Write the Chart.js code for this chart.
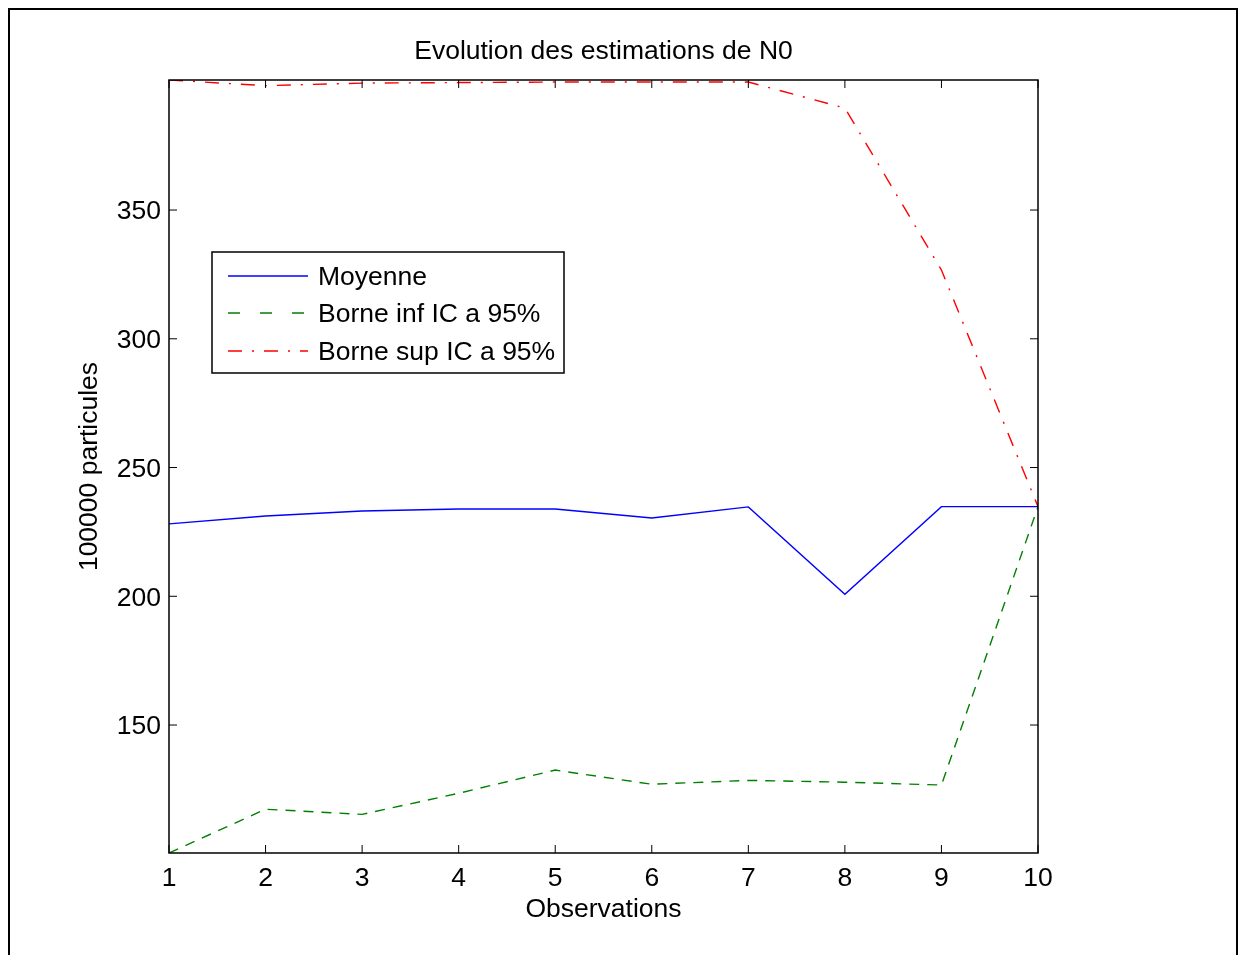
<!DOCTYPE html>
<html>
<head>
<meta charset="utf-8">
<script src="https://cdn.jsdelivr.net/npm/chart.js@4"></script>
<style>
  html, body { margin: 0; padding: 0; background: #fff; }
  canvas { display: block; }
</style>
</head>
<body>
<canvas id="chart" width="1239" height="955"></canvas>
<script>
// Data
const observations = [1, 2, 3, 4, 5, 6, 7, 8, 9, 10];
const moyenne = [228.1, 231.2, 233.1, 233.9, 233.9, 230.4, 234.7, 200.8, 234.8, 234.8];
const borneInf = [100.3, 117.3, 115.3, 123.5, 132.5, 127.0, 128.5, 127.8, 126.7, 234.8];
const borneSup = [400.5, 398.3, 399.3, 399.5, 399.7, 399.7, 399.7, 389.6, 326.7, 234.8];
const yTicks = [150, 200, 250, 300, 350];

const FONT = '"Liberation Sans", Arial, Helvetica, sans-serif';
const SIZE = 26.5;

function points(values) {
  return observations.map((x, i) => ({ x: x, y: values[i] }));
}

// Frame, mirrored inward ticks, title and legend (MATLAB look)
const matlabDecor = {
  id: 'matlabDecor',
  afterDraw(chart) {
    const ctx = chart.ctx;
    const a = chart.chartArea;
    const xs = chart.scales.x;
    const ys = chart.scales.y;
    ctx.save();

    // outer figure frame
    ctx.strokeStyle = '#000';
    ctx.lineWidth = 2;
    ctx.beginPath();
    ctx.moveTo(9, 960);
    ctx.lineTo(9, 9);
    ctx.lineTo(1237, 9);
    ctx.lineTo(1237, 960);
    ctx.stroke();

    // axes box
    ctx.lineWidth = 1.5;
    ctx.strokeRect(a.left, a.top, a.right - a.left, a.bottom - a.top);

    // inward ticks on all four sides
    ctx.lineWidth = 1;
    const tl = 8;
    ctx.beginPath();
    xs.ticks.forEach(t => {
      const px = xs.getPixelForValue(t.value);
      ctx.moveTo(px, a.bottom); ctx.lineTo(px, a.bottom - tl);
      ctx.moveTo(px, a.top); ctx.lineTo(px, a.top + tl);
    });
    ys.ticks.forEach(t => {
      const py = ys.getPixelForValue(t.value);
      ctx.moveTo(a.left, py); ctx.lineTo(a.left + tl, py);
      ctx.moveTo(a.right, py); ctx.lineTo(a.right - tl, py);
    });
    ctx.stroke();

    // title
    ctx.fillStyle = '#000';
    ctx.font = SIZE + 'px ' + FONT;
    ctx.textAlign = 'center';
    ctx.textBaseline = 'middle';
    ctx.fillText('Evolution des estimations de N0', (a.left + a.right) / 2, 52);

    // legend
    const lx = 212, ly = 252, lw = 352, lh = 121;
    ctx.fillStyle = '#fff';
    ctx.fillRect(lx, ly, lw, lh);
    ctx.strokeStyle = '#000';
    ctx.lineWidth = 1.5;
    ctx.strokeRect(lx, ly, lw, lh);
    const rows = [276, 313, 351];
    chart.data.datasets.forEach((ds, i) => {
      const y = rows[i];
      ctx.strokeStyle = ds.borderColor;
      ctx.lineWidth = ds.borderWidth;
      ctx.setLineDash(ds.legendDash || []);
      ctx.beginPath();
      ctx.moveTo(228, y);
      ctx.lineTo(308, y);
      ctx.stroke();
      ctx.setLineDash([]);
      ctx.fillStyle = '#000';
      ctx.textAlign = 'left';
      ctx.fillText(ds.label, 318, y + 2);
    });

    ctx.restore();
  }
};

new Chart(document.getElementById('chart'), {
  type: 'line',
  data: {
    datasets: [
      {
        label: 'Moyenne',
        data: points(moyenne),
        borderColor: '#0000ff',
        borderWidth: 1.4,
        pointRadius: 0
      },
      {
        label: 'Borne inf IC a 95%',
        data: points(borneInf),
        borderColor: '#008000',
        borderWidth: 1.4,
        borderDash: [10, 8],
        legendDash: [12, 20],
        pointRadius: 0
      },
      {
        label: 'Borne sup IC a 95%',
        data: points(borneSup),
        borderColor: '#ff0000',
        borderWidth: 1.4,
        borderDash: [14, 10, 2, 10],
        legendDash: [14, 10, 2, 10],
        pointRadius: 0
      }
    ]
  },
  options: {
    responsive: false,
    animation: false,
    layout: { padding: { left: 0, top: 80, right: 201, bottom: 0 } },
    plugins: {
      legend: { display: false },
      tooltip: { enabled: false }
    },
    scales: {
      x: {
        type: 'linear',
        min: 1,
        max: 10,
        ticks: {
          stepSize: 1,
          color: '#000',
          padding: 10,
          font: { family: FONT, size: SIZE }
        },
        grid: { display: false, drawTicks: false },
        border: { display: false },
        title: {
          display: true,
          text: 'Observations',
          color: '#000',
          font: { family: FONT, size: SIZE },
          padding: { top: 0, bottom: 29 }
        },
        afterFit: s => { s.height = 102; }
      },
      y: {
        min: 100.3,
        max: 400.5,
        afterBuildTicks: s => { s.ticks = yTicks.map(v => ({ value: v })); },
        ticks: {
          color: '#000',
          padding: 8,
          labelOffset: 2,
          font: { family: FONT, size: SIZE }
        },
        grid: { display: false, drawTicks: false },
        border: { display: false },
        title: {
          display: true,
          text: '100000 particules',
          color: '#000',
          font: { family: FONT, size: SIZE },
          padding: { top: 74, bottom: 0 }
        },
        afterFit: s => { s.width = 169; }
      }
    }
  },
  plugins: [matlabDecor]
});
</script>
</body>
</html>
